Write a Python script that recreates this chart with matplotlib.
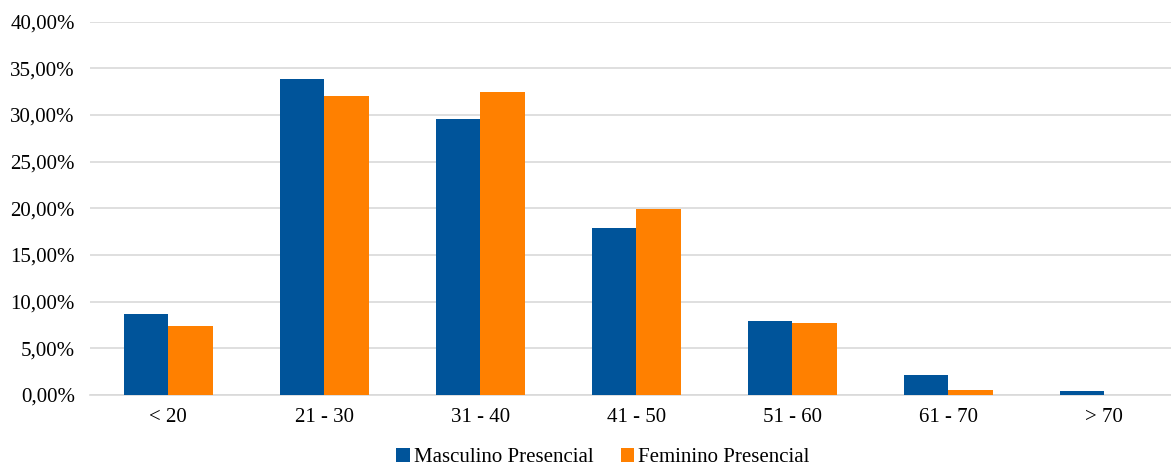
import matplotlib.pyplot as plt
import numpy as np

plt.rcParams['font.family'] = ['Liberation Serif', 'DejaVu Serif']

faixas = ['< 20', '21 - 30', '31 - 40', '41 - 50', '51 - 60', '61 - 70', '> 70']
masculino = [8.64, 33.87, 29.55, 17.88, 7.92, 2.10, 0.46]
feminino = [7.36, 32.05, 32.44, 19.88, 7.71, 0.50, 0.0]
yticks = [0, 5, 10, 15, 20, 25, 30, 35, 40]

azul = '#00549A'
laranja = '#FF8000'

fig = plt.figure(figsize=(11.71, 4.65), dpi=100)
ax = fig.add_axes([0.077, 0.1505, 0.9325, 0.803])

x = np.arange(len(faixas))
w = 0.285
ax.bar(x - w/2, masculino, w, color=azul, label='Masculino Presencial', zorder=3)
ax.bar(x + w/2, feminino, w, color=laranja, label='Feminino Presencial', zorder=3)

ax.set_xlim(-0.5, len(faixas) - 0.5)
ax.set_ylim(0, 40)
ax.set_yticks(yticks)
ax.set_yticklabels([f'{v:.2f}%'.replace('.', ',') for v in yticks], fontsize=15)
ax.set_xticks(x)
ax.set_xticklabels(faixas, fontsize=15)
ax.tick_params(length=0, pad=9)
ax.tick_params(axis='y', pad=11)
ax.grid(axis='y', color='#d9d9d9', linewidth=1.2, zorder=0)
for s in ['top', 'right', 'left']:
    ax.spines[s].set_visible(False)
ax.spines['bottom'].set_color('#d9d9d9')
ax.spines['bottom'].set_linewidth(1.2)

fig.legend(loc='lower center', bbox_to_anchor=(0.515, -0.045), ncol=2, frameon=False,
           fontsize=15, handlelength=0.65, handleheight=0.65, handletextpad=0.2,
           columnspacing=1.3)

fig.savefig('out.png', dpi=100)
